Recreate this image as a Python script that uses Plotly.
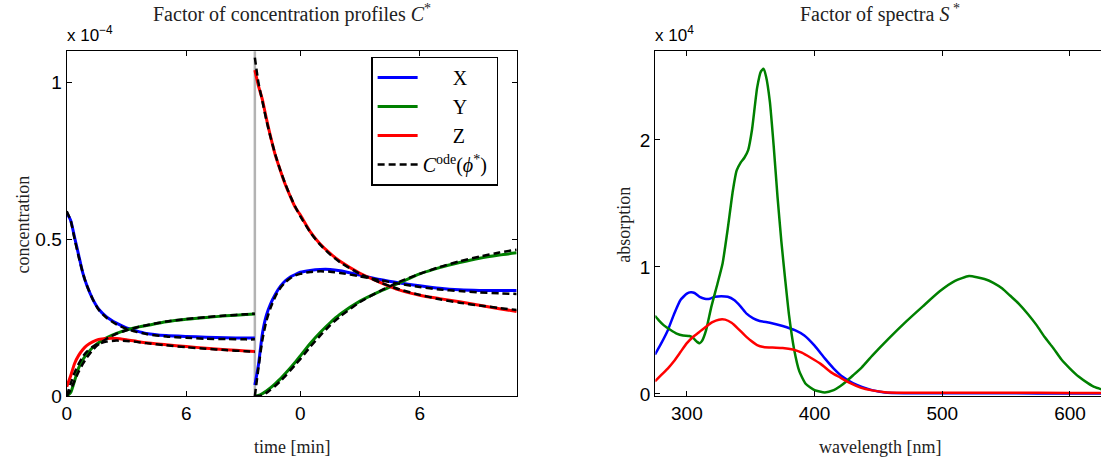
import plotly.graph_objects as go

# ---------------- data: concentration profiles (units of 1e-4) ----------------
T1 = [0, 0.2, 0.4, 0.6, 0.8, 1.0, 1.3, 1.6, 2.0, 2.5, 3.0, 3.5, 4.0, 5.0, 6.0, 7.0, 8.0, 9.0, 9.45]
X1 = [0.585, 0.56, 0.505, 0.45, 0.395, 0.355, 0.31, 0.278, 0.253, 0.233, 0.218, 0.208, 0.2, 0.193, 0.19, 0.188, 0.186, 0.185, 0.185]
Y1 = [0.0, 0.012, 0.05, 0.09, 0.115, 0.133, 0.155, 0.17, 0.186, 0.2, 0.211, 0.219, 0.225, 0.237, 0.245, 0.251, 0.256, 0.26, 0.262]
Z1 = [0.03, 0.065, 0.105, 0.13, 0.148, 0.161, 0.173, 0.181, 0.184, 0.184, 0.18, 0.175, 0.17, 0.164, 0.158, 0.153, 0.148, 0.144, 0.142]
XF1 = [0.59, 0.56, 0.5, 0.445, 0.395, 0.355, 0.31, 0.276, 0.25, 0.229, 0.215, 0.205, 0.198, 0.19, 0.186, 0.183, 0.182, 0.181, 0.181]
YF1 = [0.0, 0.02, 0.05, 0.078, 0.102, 0.122, 0.147, 0.165, 0.183, 0.199, 0.21, 0.219, 0.226, 0.238, 0.246, 0.252, 0.257, 0.261, 0.263]
ZF1 = [0.0, 0.04, 0.075, 0.103, 0.125, 0.141, 0.157, 0.167, 0.174, 0.177, 0.176, 0.173, 0.169, 0.162, 0.156, 0.151, 0.147, 0.143, 0.141]

T2 = [-2.28, -2.1, -1.9, -1.7, -1.5, -1.25, -1.0, -0.75, -0.5, -0.25, 0, 0.5, 1, 1.5, 2, 3, 4, 5, 6, 7, 8, 9, 10, 10.87]
X2 = [0.035, 0.1, 0.2, 0.258, 0.293, 0.325, 0.35, 0.368, 0.38, 0.388, 0.395, 0.401, 0.404, 0.404, 0.4, 0.386, 0.372, 0.361, 0.352, 0.344, 0.339, 0.337, 0.337, 0.337]
Y2 = [0.0, 0.002, 0.008, 0.016, 0.026, 0.04, 0.055, 0.072, 0.09, 0.108, 0.128, 0.168, 0.203, 0.234, 0.261, 0.303, 0.334, 0.362, 0.39, 0.41, 0.426, 0.44, 0.45, 0.457]
Z2 = [1.04, 0.99, 0.945, 0.885, 0.83, 0.768, 0.72, 0.675, 0.637, 0.602, 0.578, 0.525, 0.485, 0.455, 0.43, 0.392, 0.363, 0.338, 0.322, 0.311, 0.301, 0.29, 0.279, 0.27]
XF2 = [0.0, 0.09, 0.18, 0.24, 0.28, 0.318, 0.345, 0.363, 0.376, 0.385, 0.39, 0.396, 0.398, 0.397, 0.393, 0.382, 0.37, 0.358, 0.348, 0.34, 0.335, 0.331, 0.328, 0.326]
YF2 = [0.0, 0.0, 0.003, 0.01, 0.02, 0.033, 0.048, 0.064, 0.082, 0.1, 0.118, 0.157, 0.193, 0.226, 0.254, 0.3, 0.335, 0.365, 0.39, 0.412, 0.43, 0.445, 0.458, 0.467]
ZF2 = [1.08, 1.0, 0.94, 0.88, 0.828, 0.77, 0.72, 0.677, 0.638, 0.604, 0.574, 0.523, 0.483, 0.452, 0.427, 0.39, 0.363, 0.34, 0.323, 0.309, 0.298, 0.289, 0.281, 0.275]

OFFSET2 = 11.73      # start of 2nd experiment's time axis on the concatenated axis
DIVIDER = 9.45       # boundary between the two experiments
TIME_TICKS = [0, 6]
TIME_MAX = 22.6

# ---------------- data: spectra (units of 1e4) ----------------
WL_X = [275, 280, 285, 290, 295, 300, 303, 306, 310, 314, 318, 322, 327, 332, 337, 342, 347, 352, 357, 365, 375, 385, 392, 400, 408, 415, 422, 430, 437, 445, 455, 470, 500, 550, 600, 625]
S_X = [0.31, 0.40, 0.50, 0.63, 0.74, 0.79, 0.80, 0.795, 0.765, 0.75, 0.75, 0.765, 0.77, 0.765, 0.74, 0.69, 0.63, 0.595, 0.575, 0.56, 0.535, 0.50, 0.46, 0.38, 0.28, 0.20, 0.135, 0.085, 0.055, 0.03, 0.012, 0.006, 0.005, 0.005, 0.004, 0.004]
WL_Y = [275, 278, 282, 287, 292, 297, 302, 305, 308, 310, 312, 315, 319, 324, 328, 332, 336, 339, 342, 345, 348, 351, 355, 358, 360, 362, 365, 368, 371, 374, 377, 380, 384, 388, 393, 400, 408, 415, 420, 425, 430, 437, 445, 458, 471, 485, 498, 510, 521, 533, 540, 547, 553, 560, 567, 574, 580, 587, 593, 600, 607, 614, 619, 625]
S_Y = [0.615, 0.58, 0.54, 0.505, 0.475, 0.46, 0.456, 0.44, 0.41, 0.40, 0.42, 0.5, 0.68, 0.87, 1.03, 1.3, 1.6, 1.76, 1.82, 1.86, 1.92, 2.08, 2.41, 2.54, 2.56, 2.5, 2.3, 1.95, 1.55, 1.2, 0.9, 0.62, 0.35, 0.18, 0.08, 0.03, 0.012, 0.03, 0.06, 0.1, 0.145, 0.21, 0.3, 0.436, 0.564, 0.692, 0.808, 0.89, 0.928, 0.905, 0.875, 0.83, 0.775, 0.71, 0.63, 0.54, 0.45, 0.36, 0.275, 0.2, 0.135, 0.085, 0.055, 0.035]
WL_Z = [275, 280, 285, 290, 295, 300, 305, 310, 315, 320, 325, 330, 335, 340, 345, 350, 355, 360, 367, 375, 383, 390, 397, 405, 413, 420, 428, 436, 445, 455, 470, 500, 550, 600, 625]
S_Z = [0.10, 0.15, 0.20, 0.26, 0.33, 0.40, 0.45, 0.49, 0.53, 0.565, 0.585, 0.585, 0.56, 0.515, 0.465, 0.42, 0.385, 0.37, 0.365, 0.362, 0.35, 0.325, 0.285, 0.235, 0.17, 0.13, 0.085, 0.05, 0.028, 0.014, 0.01, 0.01, 0.01, 0.008, 0.008]
WL_TICKS = [300, 400, 500, 600]
WL_RANGE = [275.3, 624.3]

BLUE, GREEN, RED = "#0000ff", "#008000", "#ff0000"
SERIF = "Liberation Serif"
SANS = "Liberation Sans"
NB = "\u00a0"

fig = go.Figure()

t2g = [t + OFFSET2 for t in T2]
for name, col, d1, d2 in [("X", BLUE, X1, X2), ("Y", GREEN, Y1, Y2), ("Z", RED, Z1, Z2)]:
    fig.add_trace(go.Scatter(x=T1, y=d1, mode="lines", name=NB * 6 + name,
                             line=dict(color=col, width=3, shape="spline", smoothing=0.6),
                             legendgroup=name, xaxis="x", yaxis="y"))
    fig.add_trace(go.Scatter(x=t2g, y=d2, mode="lines", showlegend=False,
                             line=dict(color=col, width=3, shape="spline", smoothing=0.6),
                             legendgroup=name, xaxis="x", yaxis="y"))

first = True
for f1, f2 in [(XF1, XF2), (YF1, YF2), (ZF1, ZF2)]:
    for tt, ff in [(T1, f1), (t2g, f2)]:
        fig.add_trace(go.Scatter(x=tt, y=ff, mode="lines",
                                 name="<i>C</i><sup>ode</sup>(<i>\u03d5</i><sup>*</sup>)" + NB,
                                 showlegend=first, legendgroup="fit",
                                 line=dict(color="black", width=2.5, dash="7px,4px",
                                           shape="spline", smoothing=0.6),
                                 xaxis="x", yaxis="y"))
        first = False

for wl, s, col in [(WL_X, S_X, BLUE), (WL_Y, S_Y, GREEN), (WL_Z, S_Z, RED)]:
    fig.add_trace(go.Scatter(x=wl, y=s, mode="lines", showlegend=False,
                             line=dict(color=col, width=2.5, shape="spline", smoothing=0.5),
                             xaxis="x2", yaxis="y2"))

W, H = 1101, 475
def px(x):
    return x / W
def py(y):
    return (H - y) / H

axis_common = dict(showline=True, linecolor="black", linewidth=1.3, ticks="inside",
                   ticklen=5, tickwidth=1, tickcolor="black", showgrid=False, zeroline=False,
                   tickfont=dict(family=SANS, size=19, color="black"))

fig.update_layout(
    width=W, height=H, margin=dict(l=0, r=0, t=0, b=0),
    paper_bgcolor="white", plot_bgcolor="white",
    xaxis=dict(domain=[px(62), px(514)], range=[0, TIME_MAX], mirror="ticks",
               tickvals=TIME_TICKS + [t + OFFSET2 for t in TIME_TICKS],
               ticktext=[str(t) for t in TIME_TICKS] * 2, anchor="y", **axis_common),
    yaxis=dict(domain=[py(405.5), py(52.5)], range=[0, 1.1], mirror="ticks",
               tickvals=[0, 0.5, 1], ticktext=["0", "0.5", "1"], anchor="x", **axis_common),
    xaxis2=dict(domain=[px(653.3), 1.0], range=WL_RANGE, mirror="ticks",
                tickvals=WL_TICKS, anchor="y2", **axis_common),
    yaxis2=dict(domain=[py(405.5), py(52.5)], range=[-0.017, 2.698], mirror=False,
                tickvals=[0, 1, 2], anchor="x2", **axis_common),
    legend=dict(x=px(368), y=py(58), xanchor="left", yanchor="top",
                bordercolor="black", borderwidth=1.3, bgcolor="white",
                font=dict(family=SERIF, size=20, color="black"),
                itemwidth=40, tracegroupgap=0),
    shapes=[dict(type="line", xref="x", yref="y domain", x0=DIVIDER, x1=DIVIDER, y0=0, y1=1,
                 line=dict(color="#b3b3b3", width=2.5), layer="below")],
)

def ann(text, x, y, font, **kw):
    d = dict(text=text, x=px(x), y=py(y), xref="paper", yref="paper", showarrow=False,
             xanchor="center", yanchor="middle", font=font)
    d.update(kw)
    return d

title_font = dict(family=SERIF, size=20, color="#222")
lab_font = dict(family=SERIF, size=18, color="#222")
exp_font = dict(family=SANS, size=17, color="black")
annotations = [
    ann("Factor of concentration profiles <i>C</i><sup>*</sup>", 288, 14, title_font),
    ann("Factor of spectra <i>S</i><sup> *</sup>", 879, 14, title_font),
    ann("x 10<sup>\u22124</sup>", 60, 48, exp_font, xanchor="left", yanchor="bottom"),
    ann("x 10<sup>4</sup>", 651, 48, exp_font, xanchor="left", yanchor="bottom"),
    ann("time [min]", 288, 458, lab_font),
    ann("wavelength [nm]", 879, 458, lab_font),
    ann("concentration", 18, 230, lab_font, textangle=-90),
    ann("absorption", 621, 230, lab_font, textangle=-90),
]
fig.update_layout(annotations=annotations)

fig.write_html(
    "out.html",
    config={"displayModeBar": False},
    post_script="var de=document.documentElement, b=document.body;"
                "de.style.margin='0'; de.style.padding='0'; de.style.overflow='hidden';"
                "de.style.height='475px'; de.style.width='1101px';"
                "b.style.margin='0'; b.style.padding='0'; b.style.overflow='hidden';"
                "b.style.height='475px'; b.style.width='1101px';",
)
